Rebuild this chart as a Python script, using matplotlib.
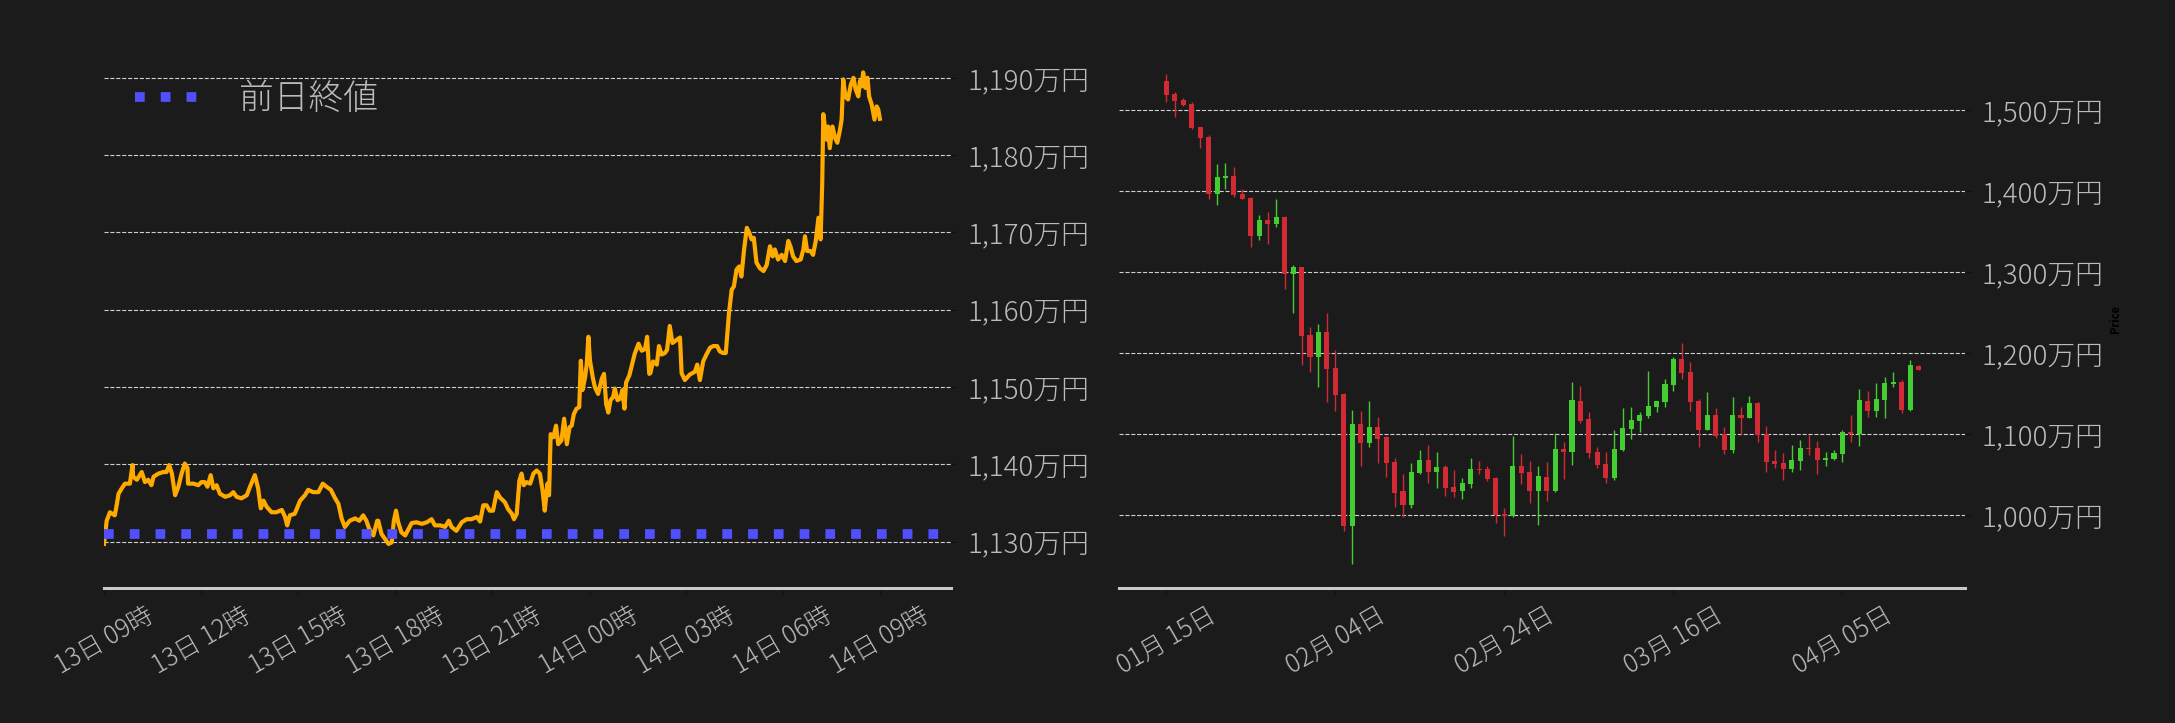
import pandas as pd
import matplotlib
matplotlib.use("Agg")
import matplotlib.pyplot as plt
import matplotlib.dates as mdates
from matplotlib.ticker import FuncFormatter, FixedLocator

plt.rcParams['font.family'] = ['Noto Sans CJK JP', 'DejaVu Sans']
plt.rcParams['font.weight'] = 'light'

BG = "#1b1b1b"
TXT = "#bbbbbb"

# --- intraday price (minutes after 13日 09:00, price in 万円) ---
intra_start = pd.Timestamp("2025-04-13 09:00")
intra_min = [
    0, 5, 11, 20, 24, 27, 33, 39, 48, 53,
    54, 61, 70, 76, 82, 88, 92, 101, 110, 116,
    121, 126, 132, 138, 144, 150, 155, 156, 166, 175,
    181, 187, 192, 198, 203, 209, 215, 225, 234, 240,
    246, 255, 265, 271, 280, 286, 291, 296, 302, 311,
    320, 330, 336, 340, 345, 354, 364, 373, 379, 388,
    398, 406, 413, 421, 429, 435, 441, 447, 456, 466,
    474, 481, 487, 492, 500, 507,
    509, 515, 521, 528, 534, 538, 542, 546, 552, 559,
    565, 571, 580, 590, 599, 608, 614, 624, 633, 640,
    645, 654, 664, 673, 682, 692, 698, 704, 710, 716,
    722, 729, 735, 744, 750, 757, 761, 766, 771, 775,
    779, 784, 791, 797, 803, 809, 814, 818, 823, 826,
    829, 834, 839, 843, 849, 854, 859, 864, 868, 872,
    877, 882, 885, 888, 893, 896, 899, 902, 907, 911,
    917, 924, 928, 932, 936, 940, 945, 948, 953, 958,
    962, 966, 969, 975, 979, 985, 992, 998, 1004, 1008,
    1012,
    1014, 1019, 1026, 1030, 1035, 1041, 1045, 1050, 1055, 1063,
    1069, 1072, 1078, 1087, 1097, 1101, 1106, 1112, 1118, 1125,
    1131, 1138, 1143, 1149, 1154, 1157, 1160, 1165, 1169, 1174,
    1179, 1183, 1188, 1193, 1198, 1202, 1206, 1211, 1217, 1224,
    1230, 1236, 1241, 1245, 1251, 1258, 1264, 1270, 1274, 1279,
    1285, 1293, 1298, 1301, 1305, 1311, 1316, 1321, 1326, 1330,
    1333, 1335, 1338, 1341, 1344, 1347, 1352, 1357, 1361, 1366,
    1369, 1372, 1376, 1381, 1386, 1391, 1395, 1400, 1403, 1406,
    1409, 1413, 1417, 1420, 1425, 1430, 1434, 1437, 1440,
]
intra_price = [
    1129.7, 1132.7, 1133.8, 1133.4, 1134.9, 1136.2, 1136.9, 1137.5, 1137.5, 1139.9,
    1138.4, 1138.0, 1139.0, 1137.7, 1138.0, 1137.3, 1138.4, 1138.8, 1139.0, 1139.0,
    1139.9, 1138.8, 1136.0, 1137.1, 1138.8, 1140.1, 1139.5, 1137.5, 1137.5, 1137.3,
    1137.7, 1137.7, 1137.1, 1138.6, 1136.9, 1137.3, 1136.2, 1135.8, 1136.0, 1136.4,
    1135.8, 1135.6, 1136.0, 1137.1, 1138.6, 1136.9, 1134.3, 1135.3, 1134.5, 1133.8,
    1133.8, 1134.1, 1133.2, 1132.1, 1133.4, 1133.6, 1135.3, 1136.0, 1136.7, 1136.4,
    1136.4, 1137.5, 1137.1, 1136.7, 1135.6, 1134.9, 1133.0, 1131.9, 1132.7, 1133.0,
    1132.7, 1133.4, 1132.7, 1131.7, 1130.8, 1132.7,
    1132.7, 1131.0, 1130.4, 1129.7, 1129.9, 1132.7, 1134.0, 1132.5, 1131.2, 1130.8,
    1131.6, 1132.4, 1132.5, 1132.3, 1132.5, 1132.9, 1132.1, 1132.1, 1131.9, 1132.7,
    1131.9, 1131.4, 1132.5, 1132.9, 1132.9, 1133.2, 1132.6, 1134.7, 1134.7, 1134.0,
    1134.0, 1136.4, 1135.7, 1135.1, 1134.2, 1133.6, 1132.9, 1133.6, 1137.9, 1138.8,
    1137.3, 1137.7, 1137.5, 1138.8, 1139.2, 1138.8, 1136.6, 1134.0, 1137.5, 1136.0,
    1143.9, 1143.5, 1145.0, 1142.6, 1143.1, 1145.9, 1142.6, 1144.8, 1145.0, 1146.5,
    1147.2, 1147.4, 1153.4, 1149.6, 1151.3, 1153.0, 1156.5, 1153.4, 1151.3, 1150.0,
    1149.1, 1151.1, 1151.7, 1147.8, 1146.7, 1148.3, 1148.7, 1149.8, 1148.3, 1148.5,
    1149.6, 1147.2, 1150.6, 1151.5, 1152.6, 1154.3, 1155.6, 1154.7, 1154.9, 1156.5,
    1151.7,
    1151.8, 1153.3, 1152.9, 1155.3, 1154.2, 1154.4, 1154.8, 1157.9, 1155.7, 1156.1,
    1156.4, 1151.8, 1150.9, 1151.6, 1152.0, 1152.9, 1150.9, 1153.3, 1154.2, 1155.1,
    1155.3, 1155.3, 1154.6, 1154.4, 1154.4, 1157.0, 1159.6, 1162.6, 1163.0, 1165.2,
    1165.6, 1164.3, 1167.8, 1170.6, 1169.9, 1169.1, 1169.3, 1166.1, 1165.4, 1165.0,
    1165.8, 1168.2, 1166.9, 1167.8, 1166.5, 1167.1, 1166.3, 1168.9, 1168.2, 1166.9,
    1166.3, 1166.5, 1167.8, 1169.5, 1167.6, 1167.6, 1167.1, 1168.9, 1171.9, 1169.1,
    1176.4, 1185.3, 1183.7, 1182.0, 1183.7, 1180.9, 1183.7, 1182.2, 1181.6, 1183.3,
    1184.6, 1189.8, 1187.6, 1187.2, 1189.1, 1190.0, 1188.5, 1187.6, 1189.6, 1188.9,
    1190.7, 1188.7, 1190.0, 1187.6, 1186.5, 1184.6, 1186.3, 1185.9, 1184.7,
]
prev_close = 1131.0
intra_ticks = pd.date_range("2025-04-13 09:00", periods=9, freq="3h")

# --- daily candles (万円) starting 01月15日 ---
day_start = "2025-01-15"
opens = [
    1536.2, 1520.2, 1512.3, 1507.8, 1479.4, 1467.1, 1397.1, 1416.9, 1418.9, 1396.7,
    1391.8, 1345.3, 1364.6, 1360.1, 1368.3, 1298.4, 1306.6, 1222.6, 1195.9, 1226.3,
    1181.9, 1149.8, 987.2, 1112.8, 1089.7, 1109.1, 1096.7, 1065.8, 1030.0, 1013.2,
    1052.7, 1068.3, 1053.9, 1059.7, 1035.0, 1030.5, 1039.1, 1057.6, 1057.2, 1046.1,
    1002.1, 999.6, 1060.9, 1053.5, 1030.5, 1047.3, 1030.5, 1081.9, 1078.6, 1141.2,
    1118.9, 1078.2, 1063.4, 1046.5, 1081.1, 1107.0, 1116.9, 1123.0, 1134.2, 1140.3,
    1161.3, 1193.0, 1177.0, 1141.2, 1105.8, 1123.9, 1100.4, 1081.1, 1123.9, 1120.6,
    1138.7, 1100.4, 1067.1, 1064.6, 1057.6, 1067.5, 1083.5, 1083.1, 1068.7, 1069.5,
    1076.1, 1102.9, 1100.4, 1141.2, 1129.2, 1142.8, 1162.6, 1164.6, 1130.5, 1184.4,
]
highs = [
    1544.4, 1522.2, 1514.8, 1509.9, 1479.4, 1469.1, 1433.3, 1434.6, 1429.6, 1402.5,
    1393.4, 1370.8, 1374.1, 1390.1, 1369.5, 1309.1, 1306.6, 1232.1, 1235.8, 1249.4,
    1204.1, 1151.4, 1130.0, 1128.4, 1140.7, 1121.0, 1098.4, 1070.4, 1050.6, 1064.2,
    1080.6, 1086.8, 1078.2, 1062.1, 1055.6, 1046.1, 1070.8, 1067.1, 1060.5, 1047.7,
    1008.6, 1097.9, 1075.3, 1067.1, 1060.9, 1065.8, 1101.6, 1090.1, 1164.6, 1159.7,
    1127.2, 1084.4, 1077.8, 1105.3, 1132.1, 1133.3, 1127.2, 1178.2, 1141.2, 1167.9,
    1195.1, 1212.3, 1188.9, 1144.0, 1151.9, 1132.9, 1108.6, 1145.7, 1133.3, 1147.3,
    1139.9, 1109.9, 1080.2, 1076.5, 1086.4, 1092.6, 1099.6, 1091.4, 1077.8, 1080.2,
    1105.3, 1123.5, 1155.6, 1153.1, 1163.0, 1170.4, 1176.5, 1166.7, 1191.4, 1185.6,
]
lows = [
    1510.7, 1492.2, 1505.8, 1477.0, 1453.1, 1390.1, 1382.7, 1402.5, 1393.4, 1390.9,
    1331.7, 1339.9, 1334.6, 1356.4, 1279.0, 1249.4, 1185.2, 1177.4, 1158.0, 1139.5,
    1128.4, 981.1, 939.5, 1060.5, 1084.8, 1064.2, 1047.7, 1009.9, 997.5, 1008.6,
    1051.0, 1040.3, 1034.2, 1024.3, 1022.2, 1019.8, 1033.3, 1050.6, 1042.4, 990.1,
    974.9, 997.5, 1039.1, 1014.8, 988.0, 1017.3, 1029.2, 1045.3, 1062.6, 1114.4,
    1071.2, 1058.8, 1040.3, 1044.0, 1079.4, 1093.8, 1102.5, 1120.6, 1127.2, 1134.2,
    1153.1, 1167.9, 1128.4, 1083.9, 1105.8, 1095.1, 1075.3, 1076.5, 1098.8, 1120.6,
    1090.1, 1053.1, 1058.0, 1043.6, 1053.1, 1055.6, 1074.1, 1050.6, 1060.5, 1067.9,
    1065.4, 1090.9, 1085.2, 1121.0, 1121.0, 1119.8, 1158.0, 1125.9, 1129.2, 1179.8,
]
closes = [
    1519.3, 1511.9, 1507.0, 1478.6, 1466.3, 1397.1, 1417.7, 1418.9, 1395.5, 1390.9,
    1345.3, 1364.6, 1360.1, 1368.3, 1298.4, 1306.6, 1221.8, 1195.9, 1226.3, 1181.1,
    1149.0, 987.2, 1112.8, 1089.7, 1109.1, 1094.7, 1065.0, 1028.0, 1013.2, 1053.5,
    1068.3, 1053.9, 1059.7, 1034.2, 1029.2, 1039.9, 1057.2, 1056.0, 1045.3, 1000.4,
    999.6, 1060.9, 1052.7, 1030.5, 1048.6, 1030.5, 1081.9, 1078.6, 1142.4, 1116.9,
    1077.4, 1062.6, 1046.5, 1081.9, 1107.8, 1117.7, 1123.9, 1135.0, 1141.2, 1162.1,
    1193.0, 1176.1, 1140.3, 1105.8, 1123.9, 1098.4, 1081.1, 1123.9, 1120.6, 1138.7,
    1099.2, 1066.3, 1063.8, 1057.6, 1068.3, 1083.1, 1081.9, 1068.7, 1070.8, 1076.9,
    1102.9, 1100.4, 1142.4, 1129.2, 1143.6, 1163.4, 1164.6, 1130.5, 1185.6, 1179.8,
]
day_ticks = pd.date_range("2025-01-15", periods=5, freq="20D")

UP = "#44cc33"
DOWN = "#d12a35"


def yen_fmt(v, pos):
    return f"{v:,.0f}万円"


def style_axes(ax):
    ax.set_facecolor(BG)
    for s in ["top", "left", "right"]:
        ax.spines[s].set_visible(False)
    ax.spines["bottom"].set_color("#c8c8c8")
    ax.spines["bottom"].set_linewidth(2.2)
    ax.yaxis.tick_right()
    ax.tick_params(axis="both", color="#111111", length=4, width=1, labelcolor=TXT)
    ax.tick_params(axis="y", labelsize=20, pad=8)
    ax.tick_params(axis="x", labelsize=18, pad=6, labelrotation=30)
    ax.grid(axis="y", linestyle="--", color="#d0d0d0", linewidth=0.8)
    ax.set_axisbelow(True)
    ax.yaxis.set_major_formatter(FuncFormatter(yen_fmt))


fig = plt.figure(figsize=(21.75, 7.23), dpi=100, facecolor=BG)
W, H = 2175, 723
ax1 = fig.add_axes([104 / W, 1 - 588 / H, (951 - 104) / W, (588 - 50) / H])
ax2 = fig.add_axes([1119 / W, 1 - 588 / H, (1965 - 1119) / W, (588 - 50) / H])

# left: intraday line with previous close
n = min(len(intra_min), len(intra_price))
t = intra_start + pd.to_timedelta(intra_min[:n], unit="min")
ax1.plot(t, intra_price[:n], color="#ffaa00", linewidth=3, zorder=3)
ax1.axhline(prev_close, color="#5050ff", linestyle=":", linewidth=7,
            label="前日終値", zorder=4)
style_axes(ax1)
ax1.set_xlim(intra_start, intra_start + pd.Timedelta(minutes=1572))
ax1.set_ylim(1124.0, 1193.6)
ax1.yaxis.set_major_locator(FixedLocator(range(1130, 1191, 10)))
ax1.set_xticks(intra_ticks)
ax1.xaxis.set_major_formatter(mdates.DateFormatter("%d日 %H時"))
ax1.legend(loc="upper left", frameon=False, fontsize=25, labelcolor=TXT,
           handletextpad=1.0)

# right: daily candles
days = pd.date_range(day_start, periods=len(opens), freq="D")
x = mdates.date2num(days)
for xi, o, h, l, c in zip(x, opens, highs, lows, closes):
    col = UP if c >= o else DOWN
    ax2.vlines(xi, l, h, color=col, linewidth=1, zorder=3)
    ax2.bar(xi, max(abs(c - o), 1.2), bottom=min(o, c), width=0.6,
            color=col, zorder=4)
style_axes(ax2)
ax2.set_xlim(x[0] - 5.6, x[0] + 94.5)
ax2.set_ylim(910.2, 1574.4)
ax2.yaxis.set_major_locator(FixedLocator(range(1000, 1501, 100)))
ax2.set_xticks(mdates.date2num(day_ticks))
ax2.xaxis.set_major_formatter(mdates.DateFormatter("%m月 %d日"))
ax2.yaxis.set_label_position("right")
ax2.set_ylabel("Price", color="black", fontsize=8, fontweight="bold")

fig.savefig("out.png", dpi=100, facecolor=BG)
